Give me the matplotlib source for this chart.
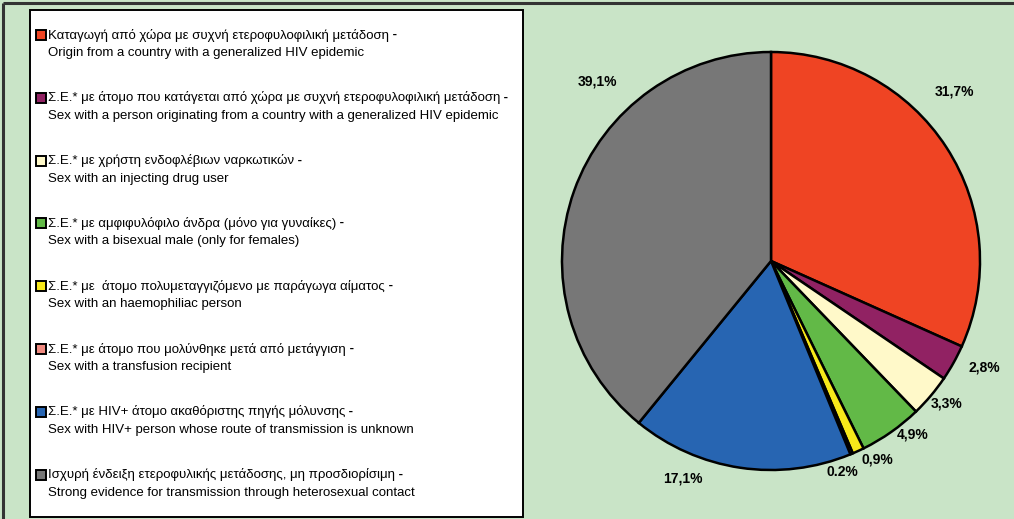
import matplotlib.pyplot as plt
from matplotlib.patches import Rectangle

plt.rcParams['font.family'] = ['Liberation Sans', 'DejaVu Sans']

# data
values = [31.7, 2.8, 3.3, 4.9, 0.9, 0.2, 17.1, 39.1]
pct_labels = ['31,7%', '2,8%', '3,3%', '4,9%', '0,9%', '0.2%', '17,1%', '39,1%']
greek = [
    'Καταγωγή από χώρα με συχνή ετεροφυλοφιλική μετάδοση',
    'Σ.Ε.* με άτομο που κατάγεται από χώρα με συχνή ετεροφυλοφιλική μετάδοση',
    'Σ.Ε.* με χρήστη ενδοφλέβιων ναρκωτικών',
    'Σ.Ε.* με αμφιφυλόφιλο άνδρα (μόνο για γυναίκες)',
    'Σ.Ε.* με  άτομο πολυμεταγγιζόμενο με παράγωγα αίματος',
    'Σ.Ε.* με άτομο που μολύνθηκε μετά από μετάγγιση',
    'Σ.Ε.* με HIV+ άτομο ακαθόριστης πηγής μόλυνσης',
    'Ισχυρή ένδειξη ετεροφυλικής μετάδοσης, μη προσδιορίσιμη',
]
english = [
    'Origin from a country with a generalized HIV epidemic',
    'Sex with a person originating from a country with a generalized HIV epidemic',
    'Sex with an injecting drug user',
    'Sex with a bisexual male (only for females)',
    'Sex with an haemophiliac person',
    'Sex with a transfusion recipient',
    'Sex with HIV+ person whose route of transmission is unknown',
    'Strong evidence for transmission through heterosexual contact',
]
colors = ['#EF4423', '#912263', '#FFF9C9', '#62B947', '#F7E81A', '#F08A80', '#2765B2', '#777777']

bg = '#C9E4C7'
W, H = 1014, 519
fig = plt.figure(figsize=(W / 100, H / 100), dpi=100, facecolor=bg)

# overlay axes in pixel-like coords (origin top-left) for the legend panel
lax = fig.add_axes([0, 0, 1, 1])
lax.set_xlim(0, W)
lax.set_ylim(H, 0)
lax.axis('off')

# figure frame (top and left dark lines)
lax.plot([3, W], [3, 3], color='#333333', lw=2.2, solid_capstyle='butt')
lax.plot([3, 3], [3, H], color='#333333', lw=2.2, solid_capstyle='butt')

# legend box
lax.add_patch(Rectangle((30, 10), 493, 507, facecolor='white', edgecolor='black', lw=1.4))

top, step = 35, 62.8
fs = 9.5
for i in range(len(values)):
    y = top + i * step
    lax.add_patch(Rectangle((35.5, y - 5), 10, 10, facecolor=colors[i], edgecolor='black', lw=1.4))
    t = lax.text(48, y, greek[i], fontsize=fs, va='center', ha='left')
    lax.text(48, y + 18, english[i], fontsize=fs, va='center', ha='left')
    lax.annotate(' -', xy=(1, 0.5), xycoords=t, va='center', ha='left',
                 fontsize=fs, fontweight='bold', annotation_clip=False)

# pie
cx, cy, r = 771, 261, 209
ax = fig.add_axes([(cx - r) / W, (H - cy - r) / H, 2 * r / W, 2 * r / H])
wedges, _ = ax.pie(values, colors=colors, startangle=90, counterclock=False,
                   wedgeprops=dict(edgecolor='black', linewidth=1.8))
ax.set_xlim(-1, 1)
ax.set_ylim(-1, 1)
ax.axis('off')

label_pos = [(0.88, 0.81), (1.02, -0.51), (0.84, -0.68), (0.68, -0.83),
             (0.51, -0.95), (0.34, -1.01), (-0.42, -1.04), (-0.83, 0.86)]
for (lx, ly), lab in zip(label_pos, pct_labels):
    ax.text(lx, ly, lab, fontsize=10, fontweight='bold', ha='center', va='center')

fig.savefig('out.png', dpi=100, facecolor=bg)
